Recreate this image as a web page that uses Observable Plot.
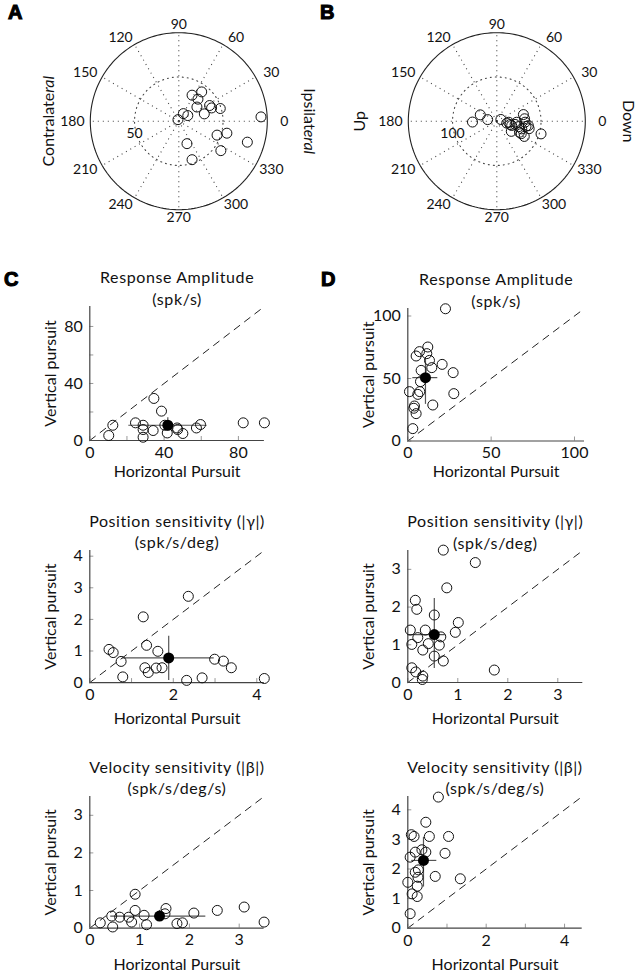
<!DOCTYPE html>
<html><head><meta charset="utf-8">
<script src="https://cdn.jsdelivr.net/npm/d3@7"></script>
<script src="https://cdn.jsdelivr.net/npm/@observablehq/plot@0.6"></script>
<style>
body{margin:0;background:#fff;}
#fig{position:relative;width:638px;height:973px;font-family:Lato,sans-serif;overflow:hidden;}
.panel{position:absolute;}
#letters{position:absolute;left:0;top:0;}
</style></head><body><div id="fig"></div>
<script>
// ---------- data ----------
const angleTicks = [0, 30, 60, 90, 120, 150, 180, 210, 240, 270, 300, 330];
const ringsA = [50, 100];
const ringsB = [100, 200];

// Panel A: preferred direction (deg) and amplitude (spk/s)
const aDirection = [63, 52, 49, 38, 16, 27, 22, 17, 59, 32, 118, 3, 346, 340, 343, 325, 290, 289];
const aAmplitude = [33, 42, 33, 26, 30, 39, 40, 49, 10, 12, 2, 93, 56, 46, 81, 58, 27, 46];
// Panel B
const bDirection = [182, 159, 170, 23, 355, 346, 325, 350, 346, 334, 333, 14, 5, 358, 350, 352, 347, 331, 344, 344, 357, 343, 349];
const bAmplitude = [55, 40, 21, 10, 27, 31, 40, 42, 51, 57, 62, 62, 63, 64, 67, 72, 75, 71, 104, 35, 45, 59, 23];

// Panel C (horizontal pursuit on x, vertical pursuit on y)
const cAmpH = [10.2, 12.4, 24.6, 28.7, 28.7, 28.7, 34.1, 34.5, 38.6, 40.4, 41.7, 47.0, 47.3, 50.1, 57.4, 59.6, 82.6, 94.0];
const cAmpV = [3.5, 10.7, 12.4, 10.7, 7.7, 2.3, 7.0, 29.5, 20.6, 10.7, 5.3, 8.8, 7.7, 4.9, 8.8, 11.2, 12.4, 12.4];
const cAmpMean = [42.0, 10.7], cAmpXErr = [21.0, 63.2], cAmpYErr = [6.5, 15.9];

const cPosH = [0.46, 0.56, 0.75, 0.79, 1.28, 1.36, 1.32, 1.40, 1.59, 1.63, 1.73, 2.36, 2.32, 2.69, 2.99, 3.20, 3.39, 4.18];
const cPosV = [1.05, 0.95, 0.67, 0.18, 2.08, 1.18, 0.47, 0.32, 0.46, 0.99, 0.47, 2.73, 0.07, 0.15, 0.74, 0.68, 0.47, 0.13];
const cPosMean = [1.89, 0.78], cPosXErr = [0.78, 2.98], cPosYErr = [0.07, 1.47];

const cVelH = [0.21, 0.44, 0.46, 0.60, 0.78, 0.84, 0.91, 0.91, 1.09, 1.14, 1.51, 1.53, 1.75, 1.86, 2.09, 2.56, 3.10, 3.50];
const cVelV = [0.14, 0.32, 0.03, 0.29, 0.29, 0.16, 0.90, 0.47, 0.34, 0.09, 0.38, 0.52, 0.12, 0.14, 0.40, 0.47, 0.56, 0.16];
const cVelMean = [1.40, 0.32], cVelXErr = [0.42, 2.33], cVelYErr = [0.18, 0.47];

// Panel D
const dAmpH = [22.6, 12.0, 7.0, 5.0, 11.4, 13.0, 14.4, 8.0, 20.6, 27.2, 27.6, 15.0, 7.6, 7.2, 6.0, 1.0, 4.0, 3.6, 5.0, 3.0];
const dAmpV = [105.8, 75.2, 71.5, 68.0, 69.9, 64.5, 58.7, 56.5, 61.3, 54.7, 37.9, 28.8, 47.5, 39.5, 37.3, 39.5, 28.0, 26.2, 21.9, 9.9];
const dAmpMean = [10.6, 50.7], dAmpXErr = [3.0, 18.0], dAmpYErr = [29.3, 65.3];

const dPosH = [0.71, 1.35, 0.78, 0.15, 0.18, 0.53, 1.01, 0.05, 0.35, 0.95, 0.20, 0.66, 0.08, 0.41, 0.63, 0.30, 0.53, 0.71, 0.08, 0.16, 0.30, 0.29, 1.73];
const dPosV = [3.51, 3.18, 2.51, 2.18, 1.94, 1.79, 1.59, 1.39, 1.39, 1.33, 1.19, 1.21, 1.01, 1.03, 0.99, 0.86, 0.70, 0.57, 0.39, 0.28, 0.17, 0.08, 0.33];
const dPosMean = [0.53, 1.27], dPosXErr = [0.0, 0.75], dPosYErr = [0.37, 2.23];

const dVelH = [0.78, 0.46, 0.09, 0.16, 0.55, 1.04, 0.36, 0.46, 0.19, 0.95, 0.06, 0.27, 0.19, 0.26, 0.70, 1.34, 0.00, 0.24, 0.11, 0.24, 0.06];
const dVelV = [4.43, 3.58, 3.16, 3.10, 3.10, 3.10, 2.65, 2.57, 2.57, 2.53, 2.40, 1.97, 1.89, 1.72, 1.75, 1.67, 1.55, 1.42, 1.16, 1.07, 0.49];
const dVelMean = [0.40, 2.29], dVelXErr = [0.10, 0.74], dVelYErr = [1.39, 3.07];

// axis limits and ticks
const ampMaxC = 94, ampMaxD = 106, posMaxC = 4.18, posMaxD = 3.5, velMaxC = 3.5, velMaxD = 4.45;
const ticksAmpC = [0, 40, 80], minorAmpC = [0, 20, 40, 60, 80];
const ticksAmpD = [0, 50, 100];
const ticksPosCx = [0, 2, 4], ticksPosCy = [0, 1, 2, 3, 4], minor04 = [0, 1, 2, 3, 4];
const ticks03 = [0, 1, 2, 3];
const ticksVelDx = [0, 2, 4], ticksVelDy = [0, 1, 2, 3, 4];

const titleAmp = "Response Amplitude\n(spk/s)";
const titlePos = "Position sensitivity (|γ|)\n(spk/s/deg)";
const titleVel = "Velocity sensitivity (|β|)\n(spk/s/deg/s)";

// ---------- drawing ----------
const fig = document.getElementById("fig");
function place(node, left, top) {
  const d = document.createElement("div");
  d.className = "panel";
  d.style.left = left + "px";
  d.style.top = top + "px";
  d.appendChild(node);
  fig.appendChild(d);
}
const rad = Math.PI / 180;

function italicTail(svg, full, head) {
  d3.select(svg).selectAll("text").each(function () {
    if (this.textContent === full) {
      this.textContent = "";
      d3.select(this).append("tspan").text(head);
      d3.select(this).append("tspan").attr("font-style", "italic").text(full.slice(head.length));
    }
  });
}

function polar(dir, amp, rings, sideL, sideR, dxL, dxR) {
  const R = rings[rings.length - 1];
  const circ = r => d3.range(0, 361, 2).map(a => ({x: r * Math.cos(a * rad), y: r * Math.sin(a * rad)}));
  const pts = dir.map((d, i) => ({x: amp[i] * Math.cos(d * rad), y: amp[i] * Math.sin(d * rad)}));
  const lx = a => 1.09 * R * Math.cos(a * rad), ly = a => 1.09 * R * Math.sin(a * rad);
  const side = Math.cos;
  const dotted = {stroke: "#444", strokeDasharray: "1,4", strokeWidth: 1.1};
  const lab = {text: d => String(d), fontSize: 14, textAnchor: "middle", lineAnchor: "middle"};
  return Plot.plot({
    width: 319, height: 250,
    marginLeft: 89.8, marginRight: 52.2, marginTop: 32.2, marginBottom: 40.8,
    x: {domain: [-R, R], axis: null},
    y: {domain: [-R, R], axis: null},
    style: {fontFamily: "Lato, sans-serif", fontSize: "14px", color: "#111", background: "transparent", overflow: "visible"},
    marks: [
      ...rings.slice(0, -1).map(r => Plot.line(circ(r), {x: "x", y: "y", ...dotted})),
      Plot.link(angleTicks, {x1: 0, y1: 0, x2: a => R * Math.cos(a * rad), y2: a => R * Math.sin(a * rad), ...dotted}),
      Plot.line(circ(R), {x: "x", y: "y", stroke: "#222", strokeWidth: 1.1}),
      Plot.text(rings.slice(0, -1), {x: r => -r, y: 0, ...lab, dy: 12}),
      Plot.text(angleTicks.filter(a => side(a * rad) > 0.01), {x: lx, y: ly, ...lab, dx: 9}),
      Plot.text(angleTicks.filter(a => side(a * rad) < -0.01), {x: lx, y: ly, ...lab, dx: -10}),
      Plot.text(angleTicks.filter(a => Math.abs(side(a * rad)) <= 0.01), {x: lx, y: ly, ...lab}),
      Plot.dot(pts, {x: "x", y: "y", r: 5, stroke: "#111", fill: "none", strokeWidth: 1}),
      Plot.text([sideL], {frameAnchor: "left", text: d => d, rotate: -90, dx: dxL, fontSize: 16, textAnchor: "middle", lineAnchor: "middle"}),
      Plot.text([sideR], {frameAnchor: "right", text: d => d, rotate: 90, dx: dxR, fontSize: 16, textAnchor: "middle", lineAnchor: "middle"})
    ]
  });
}

function scatter(o) {
  const pts = o.h.map((x, i) => ({x, y: o.v[i]}));
  const frameW = o.frameW, frameH = o.frameH;
  const mT = 46, mB = 52, mL = 89.3;
  const fmt = d => String(d);
  const svg = Plot.plot({
    width: 319, height: mT + frameH + mB,
    marginLeft: mL, marginRight: 319 - mL - frameW, marginTop: mT, marginBottom: mB,
    x: {domain: [0, o.max], label: null},
    y: {domain: [0, o.max], label: null},
    style: {fontFamily: "Lato, sans-serif", fontSize: "16px", color: "#111", background: "transparent", overflow: "visible"},
    marks: [
      Plot.line([0, o.max], {x: d => d, y: d => d, stroke: "#222", strokeDasharray: "7,6", strokeWidth: 1}),
      Plot.tickX(o.minorX, {x: d => d, insetTop: frameH - 4, stroke: "#999"}),
      Plot.tickY(o.minorY, {y: d => d, insetRight: frameW - 4, stroke: "#999"}),
      Plot.ruleY([0], {stroke: "#444", strokeWidth: 1.2}),
      Plot.ruleX([0], {stroke: "#444", strokeWidth: 1.2}),
      Plot.axisX({ticks: o.ticksX, tickFormat: fmt, tickSize: 0, tickPadding: 6, fontSize: 16}),
      Plot.axisY({ticks: o.ticksY, tickFormat: fmt, tickSize: 0, tickPadding: 7, fontSize: 16}),
      Plot.ruleY([o.mean], {y: m => m[1], x1: o.xErr[0], x2: o.xErr[1], stroke: "#555", strokeWidth: 1.2}),
      Plot.ruleX([o.mean], {x: m => m[0], y1: o.yErr[0], y2: o.yErr[1], stroke: "#555", strokeWidth: 1.2}),
      Plot.dot(pts, {x: "x", y: "y", r: 5, stroke: "#111", fill: "none", strokeWidth: 1}),
      Plot.dot([o.mean], {x: m => m[0], y: m => m[1], r: 5.5, fill: "#000"}),
      Plot.text([o.title], {frameAnchor: "top", textAnchor: "middle", lineAnchor: "bottom", text: d => d, dy: -2, lineHeight: 1.35, fontSize: 16}),
      Plot.text(["Horizontal Pursuit"], {frameAnchor: "bottom", textAnchor: "middle", lineAnchor: "middle", text: d => d, dy: o.xLabelDy, fontSize: 16}),
      Plot.text(["Vertical pursuit"], {frameAnchor: "left", textAnchor: "middle", lineAnchor: "middle", text: d => d, rotate: -90, dx: -39, fontSize: 16})
    ]
  });
  // slightly wider letter spacing for the two-line titles, as in the original
  d3.select(svg).selectAll("text").filter(function () { return this.textContent.startsWith(o.title.split("\n")[0]); })
    .attr("letter-spacing", "0.6px");
  return svg;
}

// polar panels
const pa = polar(aDirection, aAmplitude, ringsA, "Contralateral", "Ipsilateral", -41.5, 41.5);
italicTail(pa, "Contralateral", "Contralate");
italicTail(pa, "Ipsilateral", "Ipsilat");
place(pa, 0, 0);
const pb = polar(bDirection, bAmplitude, ringsB, "Up", "Down", -48, 43);
place(pb, 318, 0);

// scatter panels
const panels = [
  {left: 0, top: 305.5, frameH: 134, frameW: 174.6, xLabelDy: 31, h: cAmpH, v: cAmpV, mean: cAmpMean, xErr: cAmpXErr, yErr: cAmpYErr, max: ampMaxC, ticksX: ticksAmpC, ticksY: ticksAmpC, minorX: minorAmpC, minorY: minorAmpC, title: titleAmp},
  {left: 318, top: 307.5, frameH: 132.5, frameW: 176.7, xLabelDy: 31, h: dAmpH, v: dAmpV, mean: dAmpMean, xErr: dAmpXErr, yErr: dAmpYErr, max: ampMaxD, ticksX: ticksAmpD, ticksY: ticksAmpD, minorX: ticksAmpD, minorY: ticksAmpD, title: titleAmp},
  {left: 0, top: 550.2, frameH: 132.1, frameW: 174.5, xLabelDy: 36, h: cPosH, v: cPosV, mean: cPosMean, xErr: cPosXErr, yErr: cPosYErr, max: posMaxC, ticksX: ticksPosCx, ticksY: ticksPosCy, minorX: minor04, minorY: minor04, title: titlePos},
  {left: 318, top: 550.3, frameH: 132, frameW: 175, xLabelDy: 36, h: dPosH, v: dPosV, mean: dPosMean, xErr: dPosXErr, yErr: dPosYErr, max: posMaxD, ticksX: ticks03, ticksY: ticks03, minorX: ticks03, minorY: ticks03, title: titlePos},
  {left: 0, top: 796.1, frameH: 131.6, frameW: 174.3, xLabelDy: 36.5, h: cVelH, v: cVelV, mean: cVelMean, xErr: cVelXErr, yErr: cVelYErr, max: velMaxC, ticksX: ticks03, ticksY: ticks03, minorX: ticks03, minorY: ticks03, title: titleVel},
  {left: 318, top: 796, frameH: 131.7, frameW: 174.4, xLabelDy: 36.5, h: dVelH, v: dVelV, mean: dVelMean, xErr: dVelXErr, yErr: dVelYErr, max: velMaxD, ticksX: ticksVelDx, ticksY: ticksVelDy, minorX: minor04, minorY: minor04, title: titleVel}
];
for (const p of panels) place(scatter(p), p.left, p.top - 46);

// panel letters
const ns = "http://www.w3.org/2000/svg";
const ls = document.createElementNS(ns, "svg");
ls.setAttribute("id", "letters");
ls.setAttribute("width", 638);
ls.setAttribute("height", 973);
for (const [t, x, y] of [["A", 8, 18.5], ["B", 320, 18.5], ["C", 4, 286], ["D", 321, 286]]) {
  const e = document.createElementNS(ns, "text");
  e.setAttribute("x", x); e.setAttribute("y", y);
  e.setAttribute("font-family", "Liberation Sans, Arial, sans-serif");
  e.setAttribute("font-weight", "bold");
  e.setAttribute("font-size", 20);
  e.setAttribute("stroke", "#000");
  e.setAttribute("stroke-width", 1.1);
  e.textContent = t;
  ls.appendChild(e);
}
fig.appendChild(ls);
</script>
</body></html>
